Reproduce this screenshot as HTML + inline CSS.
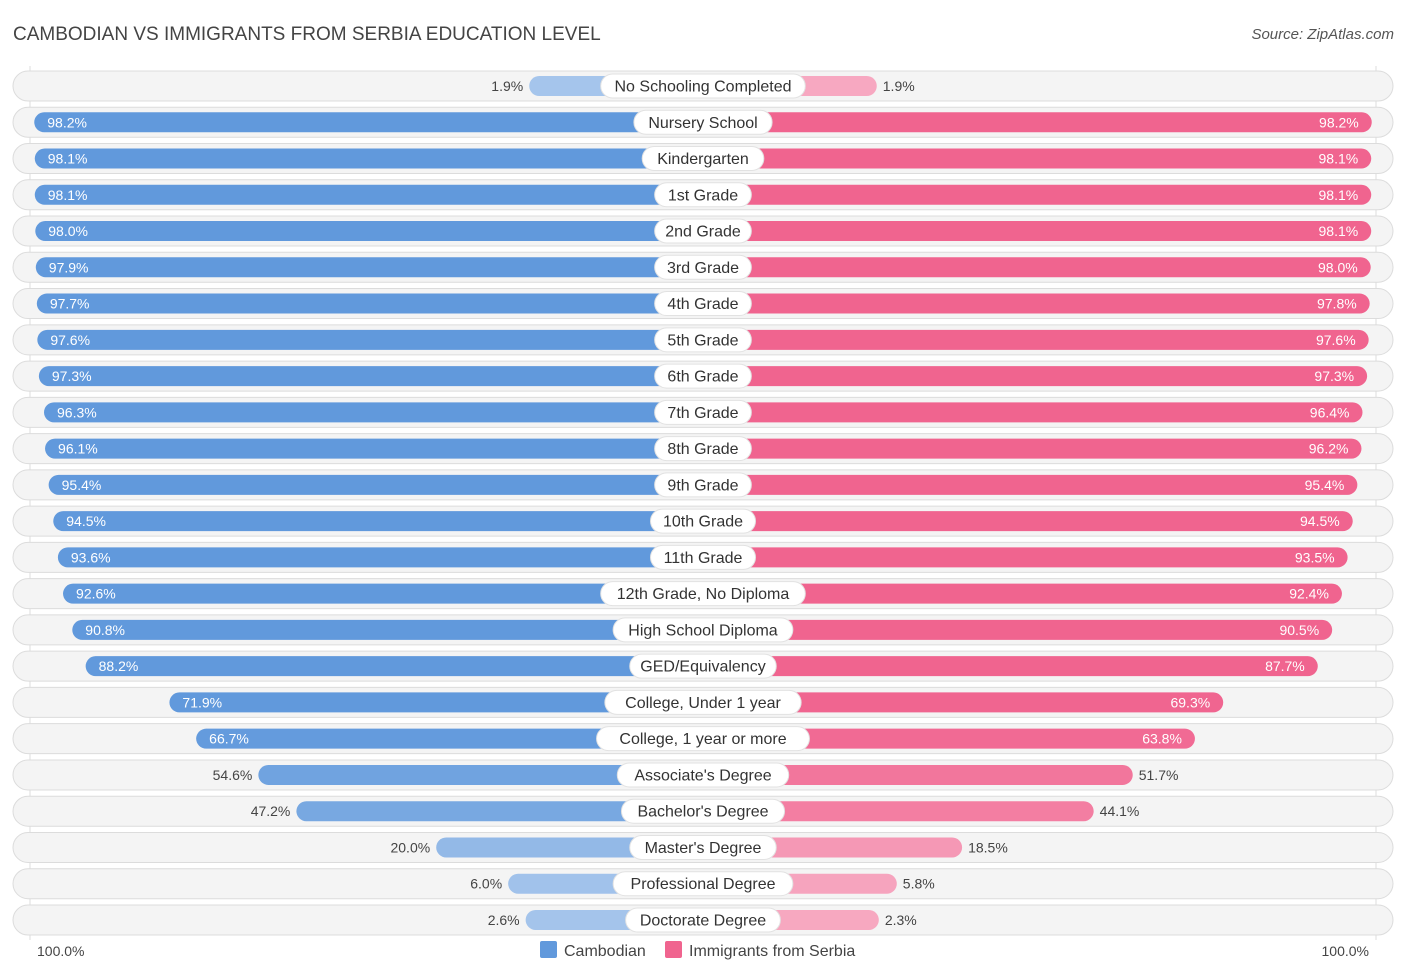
<!DOCTYPE html>
<html><head><meta charset="utf-8">
<style>
body{margin:0;background:#fff;font-family:"Liberation Sans",sans-serif;}
svg text{font-family:"Liberation Sans",sans-serif;}
</style></head>
<body>
<svg width="1406" height="975" xmlns="http://www.w3.org/2000/svg">
<text x="13" y="40" font-size="19" fill="#444">CAMBODIAN VS IMMIGRANTS FROM SERBIA EDUCATION LEVEL</text>
<text x="1394" y="39" font-size="15" fill="#555" font-style="italic" text-anchor="end">Source: ZipAtlas.com</text>
<line x1="30" y1="66" x2="30" y2="940" stroke="#ddd"/>
<line x1="1376" y1="66" x2="1376" y2="940" stroke="#ddd"/>
<g id="rows"></g>
<text x="37" y="956" font-size="14" fill="#444">100.0%</text>
<text x="1369" y="956" font-size="14" fill="#444" text-anchor="end">100.0%</text>
<rect x="540" y="941" width="17" height="17" rx="2" fill="#6199dc"/>
<text x="564" y="956" font-size="16" fill="#444">Cambodian</text>
<rect x="665" y="941" width="17" height="17" rx="2" fill="#f0648f"/>
<text x="689" y="956" font-size="16" fill="#444">Immigrants from Serbia</text>
</svg>
<script>
const categories=["No Schooling Completed","Nursery School","Kindergarten","1st Grade","2nd Grade","3rd Grade","4th Grade","5th Grade","6th Grade","7th Grade","8th Grade","9th Grade","10th Grade","11th Grade","12th Grade, No Diploma","High School Diploma","GED/Equivalency","College, Under 1 year","College, 1 year or more","Associate's Degree","Bachelor's Degree","Master's Degree","Professional Degree","Doctorate Degree"];
const cambodian=[1.9,98.2,98.1,98.1,98.0,97.9,97.7,97.6,97.3,96.3,96.1,95.4,94.5,93.6,92.6,90.8,88.2,71.9,66.7,54.6,47.2,20.0,6.0,2.6];
const serbia=[1.9,98.2,98.1,98.1,98.1,98.0,97.8,97.6,97.3,96.4,96.2,95.4,94.5,93.5,92.4,90.5,87.7,69.3,63.8,51.7,44.1,18.5,5.8,2.3];
const NS="http://www.w3.org/2000/svg";
const g=document.getElementById('rows');
const cx=703, y0=86, dy=36.26;
function w(v){return 164+5.14*v;}
function mix(a,b,t){return 'rgb('+a.map((x,i)=>Math.round(x+(b[i]-x)*t)).join(',')+')';}
function blue(v){return mix([167,198,236],[97,153,220],Math.min(1,v/70));}
function pink(v){return mix([247,170,194],[240,100,143],Math.min(1,v/70));}
function el(t,a,p){const e=document.createElementNS(NS,t);for(const k in a)e.setAttribute(k,a[k]);(p||g).appendChild(e);return e;}
categories.forEach((c,i)=>{
  const y=y0+i*dy;
  const row=el('g',{});
  
  
  const bg=el('rect',{x:13,y:y-15,width:1380,height:30,rx:15,fill:'#f4f4f4',stroke:'#dcdcdc'},row);
  
  
  const a=cambodian[i], b=serbia[i];
  const wl=w(a), wr=w(b);
  const bl=el('rect',{x:cx-wl,y:y-10,width:wl,height:20,rx:10,fill:blue(a)},row);
  
  
  const br=el('rect',{x:cx,y:y-10,width:wr,height:20,rx:10,fill:pink(b)},row);
  
  
  const inL=a>60, inR=b>60;
  const tl=el('text',{x:inL?cx-wl+13:cx-wl-6,y:y+5,'font-size':14,fill:inL?'#fff':'#444','text-anchor':inL?'start':'end'},row);
  tl.textContent=a.toFixed(1)+'%';
  
  
  const tr=el('text',{x:inR?cx+wr-13:cx+wr+6,y:y+5,'font-size':14,fill:inR?'#fff':'#444','text-anchor':inR?'end':'start'},row);
  tr.textContent=b.toFixed(1)+'%';
  
  
  const lw=c.length*8.3+22;
  const lp=el('rect',{x:cx-lw/2,y:y-12,width:lw,height:24,rx:12,fill:'#fff',stroke:'#e2e2e2'},row);
  
  
  const lt=el('text',{x:cx,y:y+5.5,'font-size':16,fill:'#333','text-anchor':'middle'},row);
  lt.textContent=c;
  
  
});
</script>
</body></html>
